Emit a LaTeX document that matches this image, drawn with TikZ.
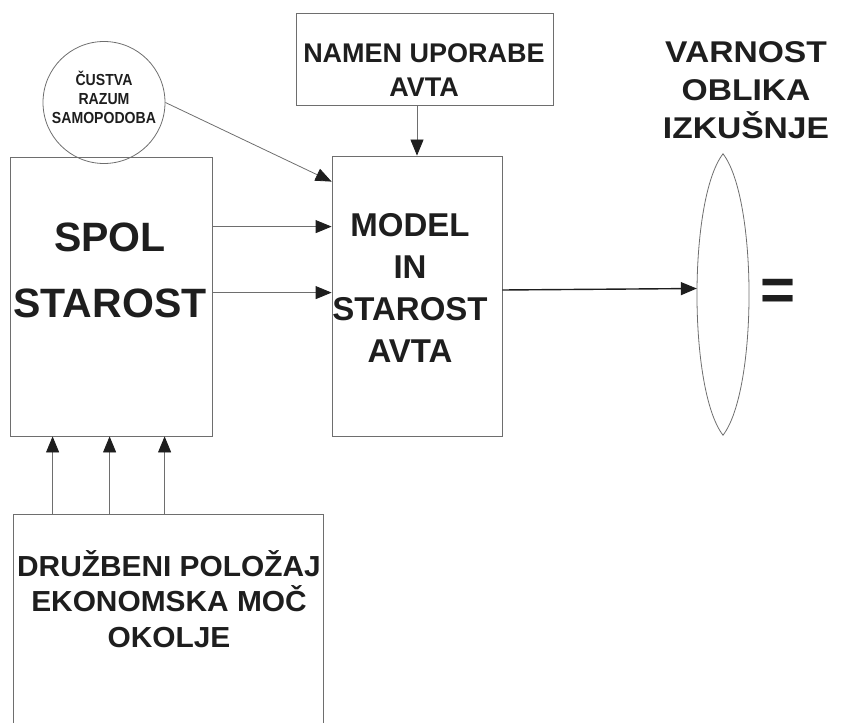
\documentclass[tikz,border=0pt]{standalone}
\usepackage{fontspec}
\setmainfont{Liberation Sans}
\definecolor{linegray}{RGB}{110,110,110}
\definecolor{inkblack}{RGB}{30,30,30}
\usetikzlibrary{arrows.meta, shapes.geometric, positioning}

\begin{document}
\begin{tikzpicture}[x=1pt, y=1pt,
    box/.style={draw=linegray, line width=0.8pt, inner sep=0pt},
    arr/.style={draw=linegray, line width=0.8pt, -{Triangle[length=16pt, width=13pt, color=inkblack]}},
    txt/.style={inner sep=0pt, align=center, text=inkblack}]
\useasboundingbox (0,0) rectangle (842,-722);
% boxes
\node[box, minimum width=202pt, minimum height=279pt] (spol) at (111,-296.5) {};
\node[box, minimum width=170pt, minimum height=280pt] (model) at (417,-296) {};
\node[box, minimum width=257pt, minimum height=92pt] (namen) at (424.5,-59) {};
\node[box, minimum width=310pt, minimum height=266pt] (okolje) at (168,-647) {};
\node[box, circle, minimum size=122pt] (custva) at (104,-102.5) {};
\node[ellipse, inner sep=0pt, minimum width=52pt, minimum height=281pt] (izid) at (723,-294.5) {};
% pointed oval
\draw[linegray, line width=0.8pt] (izid.north)
  .. controls ([shift={(34.7,-45)}]izid.north) and ([shift={(34.7,45)}]izid.south) .. (izid.south)
  .. controls ([shift={(-34.7,45)}]izid.south) and ([shift={(-34.7,-45)}]izid.north) .. (izid.north) -- cycle;
% texts
\node[txt, font=\fontsize{41}{66}\selectfont\bfseries] (spoltxt) at (110,-270) {SPOL\\STAROST};
\node[txt, font=\fontsize{33}{42}\selectfont\bfseries] (modeltxt) at (410,-288) {MODEL\\IN\\STAROST\\AVTA};
\node[txt, font=\fontsize{27}{34}\selectfont\bfseries] (namentxt) at (424,-70) {NAMEN UPORABE\\AVTA};
\node[txt, font=\fontsize{16}{19}\selectfont\bfseries, xscale=0.88] (custvatxt) at (104,-97) {ČUSTVA\\RAZUM\\SAMOPODOBA};
\node[txt, font=\fontsize{29}{35.5}\selectfont\bfseries, xscale=1.03] (okoljetxt) at (169,-599) {DRUŽBENI POLOŽAJ\\EKONOMSKA MOČ\\OKOLJE};
\node[txt, font=\fontsize{30}{38}\selectfont\bfseries, xscale=1.12] (varnost) at (746,-90) {VARNOST\\OBLIKA\\IZKUŠNJE};
\node[txt, font=\fontsize{60}{60}\selectfont\bfseries, anchor=base] (enako) at (778.5,-310) {=};
% connectors
\draw[arr] (custva.east) -- ([yshift=-26pt]model.north west);
\draw[arr] ([yshift=-70pt]spol.north east) -- ([yshift=-71pt]model.north west);
\draw[arr] ([yshift=-136pt]spol.north east) -- ([yshift=-137pt]model.north west);
\draw[arr] (model.north |- namen.south) -- (model.north);
\draw[arr, draw=inkblack, line width=1.4pt] ([yshift=6pt]model.east) -- ([yshift=6pt]izid.west);
\foreach \dx [count=\i] in {43,100,155} {
  \path (spol.south west) ++(\dx,0) coordinate (up\i);
  \draw[arr] (up\i |- okolje.north) -- (up\i);
}
\end{tikzpicture}
\end{document}
